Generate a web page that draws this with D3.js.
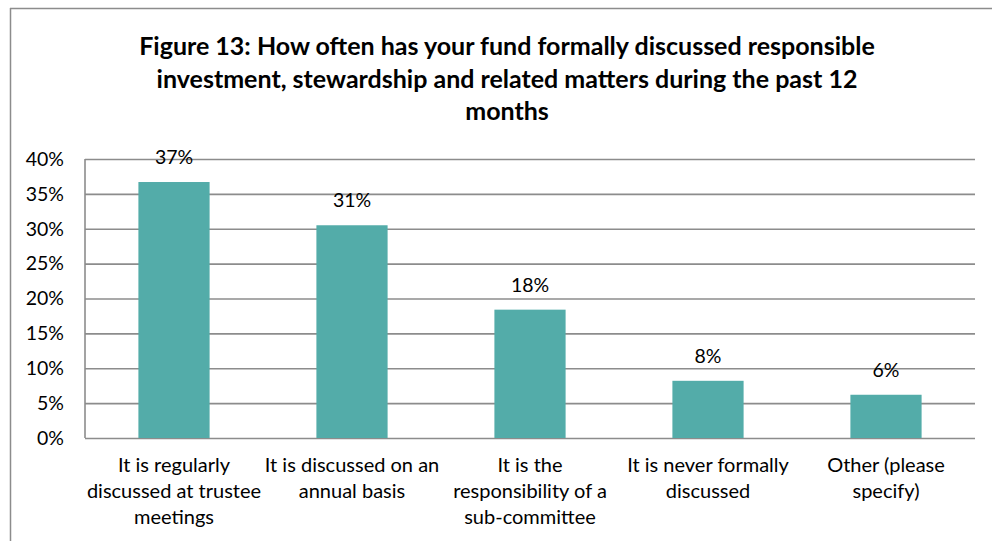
<!DOCTYPE html>
<html>
<head>
<meta charset="utf-8">
<script src="https://cdn.jsdelivr.net/npm/d3@7"></script>
<style>
  html, body { margin: 0; padding: 0; background: #fff; }
  svg { display: block; font-family: Lato, "Open Sans", sans-serif; }
</style>
</head>
<body>
<svg id="chart" width="992" height="541"></svg>
<script>
// Survey responses: share of funds by how often RI/stewardship is formally discussed
const categories = [
  ["It is regularly", "discussed at trustee", "meetings"],
  ["It is discussed on an", "annual basis"],
  ["It is the", "responsibility of a", "sub-committee"],
  ["It is never formally", "discussed"],
  ["Other (please", "specify)"]
];
const values = [0.367, 0.305, 0.184, 0.082, 0.062];
const yTicks = [0, 0.05, 0.10, 0.15, 0.20, 0.25, 0.30, 0.35, 0.40];
const titleLines = [
  "Figure 13: How often has your fund formally discussed responsible",
  "investment, stewardship and related matters during the past 12",
  "months"
];

const svg = d3.select("#chart");
const plot = { left: 85, right: 975, top: 159, bottom: 438 };

// outer frame (top and left edges)
svg.append("line").attr("x1", 10).attr("x2", 992).attr("y1", 8.5).attr("y2", 8.5)
  .attr("stroke", "#8c8c8c").attr("stroke-width", 1.5);
svg.append("line").attr("x1", 10.5).attr("x2", 10.5).attr("y1", 8).attr("y2", 541)
  .attr("stroke", "#8c8c8c").attr("stroke-width", 1.5);

// title
svg.append("g").selectAll("text").data(titleLines).join("text")
  .attr("x", 507).attr("y", (d, i) => 55 + i * 32.5)
  .attr("text-anchor", "middle")
  .attr("font-weight", "bold").attr("font-size", 25).attr("fill", "#000")
  .text(d => d);

const x = d3.scaleBand().domain(d3.range(values.length))
  .range([plot.left, plot.right]).paddingInner(0.6).paddingOuter(0.3);
const y = d3.scaleLinear().domain([0, 0.4]).range([plot.bottom, plot.top]);

// gridlines + y axis
const yAxis = d3.axisLeft(y).tickValues(yTicks).tickFormat(d3.format(".0%"))
  .tickSize(-(plot.right - plot.left)).tickPadding(21);
const gy = svg.append("g").attr("transform", `translate(${plot.left},0)`).call(yAxis);
gy.select(".domain").remove();
gy.selectAll(".tick line").attr("stroke", "#8c8c8c").attr("stroke-width", 1.6);
gy.selectAll(".tick text").attr("font-size", 19.5).attr("fill", "#000")
  .attr("font-family", "Lato, 'Open Sans', sans-serif");

// left axis line
svg.append("line").attr("x1", plot.left).attr("x2", plot.left)
  .attr("y1", plot.top).attr("y2", plot.bottom)
  .attr("stroke", "#8c8c8c").attr("stroke-width", 1.6);

// bars
svg.append("g").selectAll("rect").data(values).join("rect")
  .attr("x", (d, i) => x(i)).attr("width", x.bandwidth())
  .attr("y", d => y(d)).attr("height", d => y(0) - y(d))
  .attr("fill", "#53aca9");

// value labels
svg.append("g").selectAll("text").data(values).join("text")
  .attr("x", (d, i) => x(i) + x.bandwidth() / 2)
  .attr("y", d => y(d) - 18)
  .attr("text-anchor", "middle").attr("font-size", 19.5).attr("fill", "#000")
  .text(d => d3.format(".0%")(d));

// category labels
const cat = svg.append("g").selectAll("text").data(categories).join("text")
  .attr("x", (d, i) => x(i) + x.bandwidth() / 2)
  .attr("y", 472)
  .attr("text-anchor", "middle").attr("font-size", 20).attr("fill", "#000");
cat.selectAll("tspan").data(d => d).join("tspan")
  .attr("x", function () { return this.parentNode.getAttribute("x"); })
  .attr("dy", (d, i) => i === 0 ? 0 : 26)
  .text(d => d);
</script>
</body>
</html>
